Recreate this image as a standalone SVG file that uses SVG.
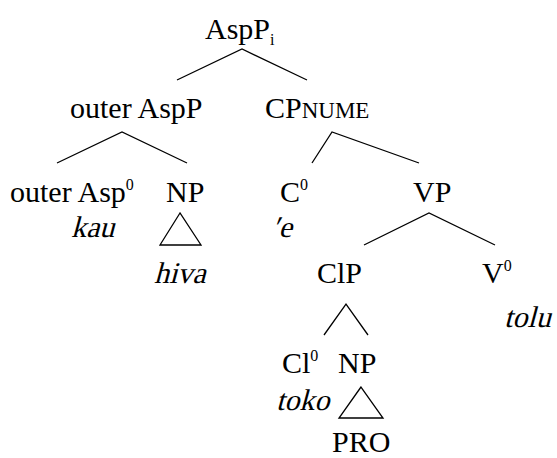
<svg xmlns="http://www.w3.org/2000/svg" width="557" height="458" viewBox="0 0 557 458">
  <style>
    text { font-family: "Liberation Serif", "Times New Roman", serif; font-size: 30px; fill: #000; }
    .sup { font-size: 16px; }
    .sc { font-size: 23px; }
    .edge { stroke: #000; stroke-width: 1.3; fill: none; stroke-linecap: butt; }
  </style>
  <rect width="557" height="458" fill="#fff"/>

  <!-- branches and triangles -->
  <g id="connectors" class="edge">
    <polyline points="177,80 242,49 307,80"/>
    <polyline points="57,163 122,132 187,163"/>
    <polyline points="312,163 332,132 419,163"/>
    <polygon points="180,213 160,245 201,245"/>
    <polyline points="364,245 429,213 495,245"/>
    <polyline points="324,335 346,304 368,335"/>
    <polygon points="361,387 339,418 383,418"/>
  </g>

  <g id="AspP-i"><text x="205" y="39">AspP<tspan class="sup" dy="6">i</tspan></text></g>
  <g id="outer-AspP"><text x="70" y="118">outer AspP</text></g>
  <g id="CP-nume"><text x="265" y="118">CP<tspan class="sc">NUME</tspan></text></g>

  <!-- slanted word forms: serif glyphs sheared at the baseline -->
  <g id="outer-Asp0">
    <text x="10" y="202">outer Asp<tspan class="sup" dy="-12">0</tspan></text>
    <text transform="translate(71,237) skewX(-15)">kau</text>
  </g>
  <g id="NP-hiva">
    <text x="166" y="202">NP</text>
    <text transform="translate(154,283) skewX(-15)">hiva</text>
  </g>
  <g id="C0">
    <text x="280" y="202">C<tspan class="sup" dy="-12">0</tspan></text>
    <text transform="translate(272,237) skewX(-15)">′e</text>
  </g>
  <g id="VP"><text x="413" y="202">VP</text></g>
  <g id="ClP"><text x="317" y="283">ClP</text></g>
  <g id="V0">
    <text x="482" y="283">V<tspan class="sup" dy="-12">0</tspan></text>
    <text transform="translate(504,327) skewX(-15)">tolu</text>
  </g>
  <g id="Cl0">
    <text x="282" y="373">Cl<tspan class="sup" dy="-12">0</tspan></text>
    <text transform="translate(276,410) skewX(-15)">toko</text>
  </g>
  <g id="NP-PRO">
    <text x="338" y="373">NP</text>
    <text x="332" y="452">PRO</text>
  </g>
</svg>
